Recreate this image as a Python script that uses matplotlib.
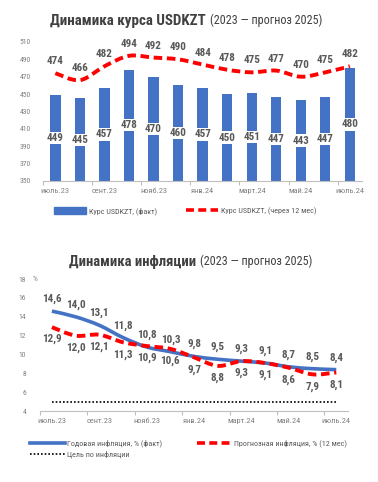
import numpy as np
import matplotlib
matplotlib.use("Agg")
import matplotlib.pyplot as plt
from matplotlib.path import Path
from matplotlib.patches import PathPatch, Patch
from matplotlib.lines import Line2D

# --------------------------------------------------------------------
# Data
# --------------------------------------------------------------------
months = ["июль.23", "авг.23", "сент.23", "окт.23", "нояб.23", "дек.23",
          "янв.24", "февр.24", "март.24", "апр.24", "май.24", "июнь.24", "июль.24"]

usd_fact = [449, 445, 457, 478, 470, 460, 457, 450, 451, 447, 443, 447, 480]
usd_forecast = [474, 466, 482, 494, 492, 490, 484, 478, 475, 477, 470, 475, 482]

infl_fact = [14.6, 14.0, 13.1, 11.8, 10.8, 10.3, 9.8, 9.5, 9.3, 9.1, 8.7, 8.5, 8.4]
infl_forecast = [12.9, 12.0, 12.1, 11.3, 10.9, 10.6, 9.7, 8.8, 9.3, 9.1, 8.6, 7.9, 8.1]
infl_target = [5.0] * 13

BLUE = "#4472C4"
RED = "#FF0000"
TXT = "#595959"
TICK = "#808080"

FAM = ["Roboto Condensed", "Open Sans Condensed", "DejaVu Sans"]
plt.rcParams["font.family"] = FAM
plt.rcParams["font.stretch"] = "condensed"


def fmt_ru(v):
    return f"{v:.1f}".replace(".", ",")


def smooth_path(xs, ys):
    # Catmull-Rom style bezier through the points (like Excel smoothed line)
    pts = np.column_stack([xs, ys]).astype(float)
    n = len(pts)
    verts = [pts[0]]
    codes = [Path.MOVETO]
    for i in range(n - 1):
        p0 = pts[i - 1] if i > 0 else pts[i]
        p1 = pts[i]
        p2 = pts[i + 1]
        p3 = pts[i + 2] if i + 2 < n else pts[i + 1]
        c1 = p1 + (p2 - p0) / 6.0
        c2 = p2 - (p3 - p1) / 6.0
        verts += [c1, c2, p2]
        codes += [Path.CURVE4] * 3
    return Path(verts, codes)


def style_axis(ax, ylim, yticks, ypad):
    ax.set_ylim(*ylim)
    ax.set_yticks(yticks)
    ax.set_xlim(-0.5, len(months) - 0.5)
    for s in ["top", "right", "left"]:
        ax.spines[s].set_visible(False)
    ax.spines["bottom"].set_color("#BFBFBF")
    ax.spines["bottom"].set_linewidth(0.8)
    ax.tick_params(axis="y", length=0, labelsize=5.5, labelcolor=TICK, pad=ypad)
    ax.set_xticks(range(0, len(months), 2))
    ax.set_xticklabels(months[::2])
    ax.tick_params(axis="x", which="major", length=0, labelsize=6, labelcolor=TICK, pad=5)
    ax.set_xticks(np.arange(-0.5, len(months), 2), minor=True)
    ax.tick_params(axis="x", which="minor", length=3, color="#BFBFBF", width=0.8)


fig = plt.figure(figsize=(3.78, 4.82), dpi=100)

# ---- Top: USDKZT ----
ax1 = fig.add_axes([0.114, 0.6245, 0.844, 0.2885])
x = np.arange(len(months))
ax1.bar(x, [v - 350 for v in usd_fact], bottom=350, width=0.42, color=BLUE, zorder=2)
ax1.add_patch(PathPatch(smooth_path(x, usd_forecast), fill=False, edgecolor=RED,
                        lw=2.8, linestyle=(0, (2.2, 1.2)), zorder=3, capstyle="butt"))
style_axis(ax1, (350, 510), range(350, 511, 20), 9)
for xi, v in zip(x, usd_fact):
    ax1.text(xi, (350 + v) / 2, str(v), ha="center", va="center", fontsize=8,
             fontweight="bold", color=TXT, zorder=4,
             bbox=dict(boxstyle="square,pad=0.1", fc="white", ec="none"))
for xi, v in zip(x, usd_forecast):
    ax1.annotate(str(v), (xi, v), xytext=(0, 5), textcoords="offset points",
                 ha="center", va="bottom", fontsize=8, fontweight="bold", color=TXT)

fig.text(0.545, 0.957, "Динамика курса USDKZT", ha="right", va="center",
         fontsize=10.8, fontweight="bold", color="#404040")
fig.text(0.555, 0.957, "(2023 — прогноз 2025)", ha="left", va="center",
         fontsize=8.7, color="#404040")

fig.legend(handles=[Patch(color=BLUE, label="Курс USDKZT, (факт)"),
                    Line2D([], [], color=RED, lw=2.6, linestyle=(0, (2.2, 1.2)),
                           label="Курс USDKZT, (через 12 мес)")],
           loc="center", bbox_to_anchor=(0.49, 0.562), ncol=2, frameon=False,
           fontsize=5.8, labelcolor=TXT, handlelength=4.0, handleheight=0.8,
           columnspacing=3.6, handletextpad=0.3)

# ---- Bottom: inflation ----
ax2 = fig.add_axes([0.106, 0.147, 0.815, 0.274])
ax2.add_patch(PathPatch(smooth_path(x, infl_fact), fill=False, edgecolor=BLUE,
                        lw=2.6, zorder=3))
ax2.add_patch(PathPatch(smooth_path(x, infl_forecast), fill=False, edgecolor=RED,
                        lw=2.8, linestyle=(0, (2.2, 1.2)), zorder=4))
ax2.plot(x, infl_target, color="black", lw=1.2, linestyle=(0, (1, 1.2)), zorder=2)
style_axis(ax2, (4, 18), range(4, 19, 2), 10)
ax2.annotate("%", (0, 18), xycoords=("axes fraction", "data"), xytext=(-2, 0),
             textcoords="offset points", ha="right", va="center",
             fontsize=5.5, color=TICK)
for xi, v in zip(x, infl_fact):
    ax2.annotate(fmt_ru(v), (xi, v), xytext=(0, 5), textcoords="offset points",
                 ha="center", va="bottom", fontsize=8, fontweight="bold", color=TXT)
for xi, v in zip(x, infl_forecast):
    ax2.annotate(fmt_ru(v), (xi, v), xytext=(0, -5), textcoords="offset points",
                 ha="center", va="top", fontsize=8, fontweight="bold", color=TXT)

fig.text(0.518, 0.457, "Динамика инфляции", ha="right", va="center",
         fontsize=10.5, fontweight="bold", color="#404040")
fig.text(0.528, 0.457, "(2023 — прогноз 2025)", ha="left", va="center",
         fontsize=8.7, color="#404040")

fig.legend(handles=[Line2D([], [], color=BLUE, lw=2.6, label="Годовая инфляция, % (факт)"),
                    Line2D([], [], color="black", lw=1.2, linestyle=(0, (1, 1.2)),
                           label="Цель по инфляции"),
                    Line2D([], [], color=RED, lw=2.6, linestyle=(0, (2.2, 1.2)),
                           label="Прогнозная инфляция, % (12 мес)")],
           loc="upper left", bbox_to_anchor=(0.06, 0.103), ncol=2, frameon=False,
           fontsize=5.8, labelcolor=TXT, handlelength=4.3, columnspacing=4.3,
           handletextpad=0.3, labelspacing=0.45)

fig.savefig("out.png", dpi=100)
